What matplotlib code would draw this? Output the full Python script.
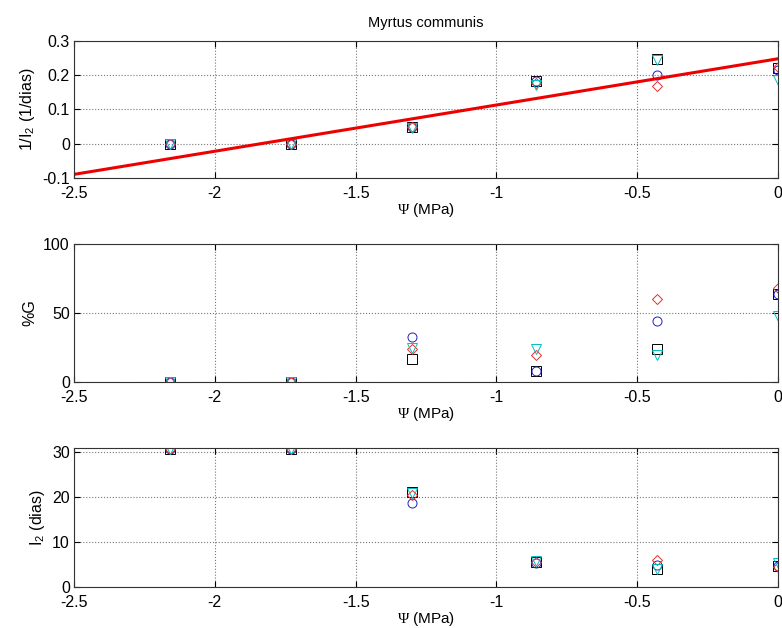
import matplotlib
matplotlib.use('Agg')
import matplotlib.pyplot as plt
import numpy as np
from matplotlib.ticker import FormatStrFormatter

plt.rcParams['axes.unicode_minus'] = False
plt.rcParams['font.family'] = 'Liberation Sans'
plt.rcParams['font.size'] = 11.5
plt.rcParams['mathtext.fontset'] = 'custom'
plt.rcParams['mathtext.rm'] = 'Liberation Serif'
plt.rcParams['mathtext.sf'] = 'Liberation Sans'

# water potential (MPa)
psi = [-2.16, -1.73, -1.30, -0.86, -0.43, 0.0]

# 1/I2 (1/dias) for the four replicates
inv_sq = [0.0, 0.0, 0.048, 0.183, 0.248, 0.220]
inv_ci = [0.0, 0.0, 0.048, 0.184, 0.202, 0.215]
inv_di = [0.0, 0.0, 0.049, 0.177, 0.168, 0.225]
inv_tr = [0.0, 0.0, 0.047, 0.170, 0.245, 0.185]

# %G
g_sq = [0, 0, 16.4, 8.0, 24.0, 64.0]
g_ci = [0, 0, 32.4, 8.0, 44.0, 64.0]
g_di = [0, 0, 23.7, 19.6, 60.0, 68.5]
g_tr = [0, 0, 24.4, 24.0, 19.6, 48.0]

# I2 (dias)
i2_sq = [30.8, 30.8, 21.2, 5.5, 4.0, 4.6]
i2_ci = [30.8, 30.8, 18.7, 5.4, 5.0, 4.6]
i2_di = [30.8, 30.8, 20.6, 5.6, 6.0, 4.5]
i2_tr = [30.8, 30.8, 21.0, 5.9, 4.1, 5.4]

# linear fit 1/I2 = a + b*psi
fit_a = 0.248
fit_b = 0.135

fig = plt.figure(figsize=(7.82, 6.28), dpi=100)
ax1 = fig.add_axes([0.0946, 0.7166, 0.9003, 0.2182])
ax2 = fig.add_axes([0.0946, 0.3917, 0.9003, 0.2197])
ax3 = fig.add_axes([0.0946, 0.0653, 0.9003, 0.2213])

styles = [('s', 'k'), ('o', '#2020c0'), ('D', '#e03030'), ('v', 'c')]

def draw(ax, series):
    for (m, c), y in zip(styles, series):
        ms = 5.5 if m == 'D' else 6.5
        ax.plot(psi, y, linestyle='none', marker=m, markersize=ms,
                markerfacecolor='none', markeredgecolor=c, markeredgewidth=0.7)

draw(ax1, [inv_sq, inv_ci, inv_di, inv_tr])
xf = np.array([-2.5, 0.0])
ax1.plot(xf, fit_a + fit_b * xf, color='#ee0000', linewidth=2.2)
ax1.set_ylim(-0.1, 0.3)
ax1.set_yticks([-0.1, 0, 0.1, 0.2, 0.3])
ax1.yaxis.set_major_formatter(FormatStrFormatter('%g'))
ax1.set_ylabel(r'1/I$_\mathsf{2}$ (1/dias)', labelpad=4)
ax1.set_title('Myrtus communis', fontsize=10.5, pad=10)

draw(ax2, [g_sq, g_ci, g_di, g_tr])
ax2.set_ylim(0, 100)
ax2.set_yticks([0, 50, 100])
ax2.set_ylabel('%G', labelpad=4)

draw(ax3, [i2_sq, i2_ci, i2_di, i2_tr])
ax3.set_ylim(0, 31)
ax3.set_yticks([0, 10, 20, 30])
ax3.set_ylabel(r'I$_\mathsf{2}$ (dias)', labelpad=4)

for ax in (ax1, ax2, ax3):
    ax.set_xlim(-2.5, 0)
    ax.set_xticks([-2.5, -2, -1.5, -1, -0.5, 0])
    ax.xaxis.set_major_formatter(FormatStrFormatter('%g'))
    ax.set_xlabel(r'$\Psi$ (MPa)', fontsize=11, labelpad=0)
    ax.grid(True, linestyle=':', color='#777777', linewidth=0.8)
    ax.tick_params(direction='in', top=True, right=True, length=4)
    ax.tick_params(axis='x', pad=6)
    ax.tick_params(axis='y', pad=3)
    for s in ax.spines.values():
        s.set_color('#333333')
        s.set_linewidth(0.8)

plt.savefig('out.png', dpi=100)
